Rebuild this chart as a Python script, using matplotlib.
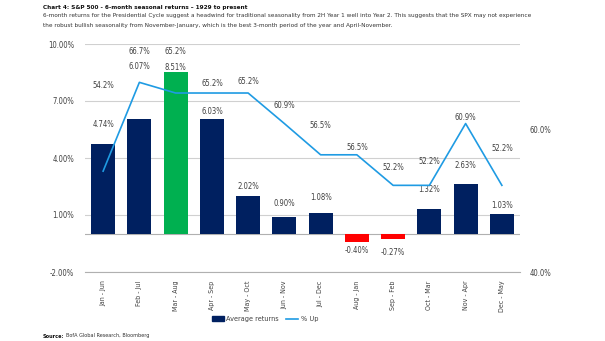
import numpy as np
import matplotlib.pyplot as plt
from matplotlib.ticker import FuncFormatter

plt.rcParams['font.family'] = ['DejaVu Sans']
plt.rcParams['font.stretch'] = 'condensed'

periods = ['Jan - Jun', 'Feb - Jul', 'Mar - Aug', 'Apr - Sep', 'May - Oct', 'Jun - Nov',
           'Jul - Dec', 'Aug - Jan', 'Sep - Feb', 'Oct - Mar', 'Nov - Apr', 'Dec - May']
avg_returns = [4.74, 6.07, 8.51, 6.03, 2.02, 0.90, 1.08, -0.40, -0.27, 1.32, 2.63, 1.03]
pct_up = [54.2, 66.7, 65.2, 65.2, 65.2, 60.9, 56.5, 56.5, 52.2, 52.2, 60.9, 52.2]

# label placement (pixels above the mark), as in the original chart
ret_label_dy = [19, 52, 5, 8, 9, 13, 16, -9, -13, 19, 19, 9]
up_label_dy = [86, 31, 42, 10, 12, 18, 29, 7, 18, 24, 6, 37]

navy = '#002060'
green = '#00b050'
red = '#ff0000'
blue = '#1f9be3'
grid_c = '#d0d0d0'
txt = '#404040'

fig = plt.figure(figsize=(6.05, 3.41), dpi=100)
ax = fig.add_axes([85 / 605, 1 - 272 / 341, 435 / 605, 228 / 341])
ax2 = ax.twinx()

x = np.arange(len(periods))
colors = []
for i, v in enumerate(avg_returns):
    if v < 0:
        colors.append(red)
    elif v == max(avg_returns):
        colors.append(green)
    else:
        colors.append(navy)
ax.bar(x, avg_returns, width=0.66, color=colors, zorder=3)
ax.axhline(0, color='#b0b0b0', lw=0.8, zorder=2)

ax.set_xlim(-0.5, len(periods) - 0.5)
ax.set_ylim(-2, 10)
ax.set_yticks([-2, 1, 4, 7, 10])
ax.yaxis.set_major_formatter(FuncFormatter(lambda v, p: f'{v:.2f}%'))
ax.grid(axis='y', color=grid_c, lw=0.8, zorder=0)
ax.set_axisbelow(True)
for s in ['top', 'right', 'left']:
    ax.spines[s].set_visible(False)
ax.spines['bottom'].set_color('#b0b0b0')
ax.set_xticks(x)
ax.set_xticklabels(periods, rotation=90, fontsize=5, color=txt)
ax.tick_params(axis='y', length=0, labelsize=5.5, labelcolor=txt, pad=8)
ax.tick_params(axis='x', length=0, pad=6)

for i, v in enumerate(avg_returns):
    ax.annotate(f'{v:.2f}%', (x[i], v), xytext=(0, ret_label_dy[i]),
                textcoords='offset pixels', ha='center', va='center',
                fontsize=5.5, color=txt)

ax2.plot(x, pct_up, color=blue, lw=1.2, zorder=4)
ax2.set_ylim(40, 72.1)
ax2.set_yticks([40, 60])
ax2.yaxis.set_major_formatter(FuncFormatter(lambda v, p: f'{v:.1f}%'))
ax2.tick_params(axis='y', length=0, labelsize=5.5, labelcolor=txt, pad=7)
for s in ax2.spines.values():
    s.set_visible(False)
for i, v in enumerate(pct_up):
    ax2.annotate(f'{v:.1f}%', (x[i], v), xytext=(0, up_label_dy[i]),
                 textcoords='offset pixels', ha='center', va='center',
                 fontsize=5.5, color=txt)

fig.text(43 / 605, 1 - 7 / 341, 'Chart 4: S&P 500 - 6-month seasonal returns \u2013 1929 to present',
         fontsize=4.6, fontweight='bold', color='#111111', va='center')
fig.text(43 / 605, 1 - 16 / 341,
         '6-month returns for the Presidential Cycle suggest a headwind for traditional seasonality from 2H Year 1 '
         'well into Year 2. This suggests that the SPX may not experience',
         fontsize=4.6, color='#333333', va='center')
fig.text(43 / 605, 1 - 25 / 341,
         'the robust bullish seasonality from November-January, which is the best 3-month period of the year '
         'and April-November.',
         fontsize=4.6, color='#333333', va='center')

h1 = plt.Rectangle((0, 0), 1, 1, color=navy)
h2 = plt.Line2D([], [], color=blue, lw=1.2)
fig.legend([h1, h2], ['Average returns', '% Up'], loc='center',
           bbox_to_anchor=(265 / 605, 1 - 319 / 341), ncol=2, frameon=False,
           fontsize=5.2, handlelength=1.7, handleheight=0.55, handletextpad=0.3,
           columnspacing=1.0, labelcolor=txt)

fig.text(43 / 605, 1 - 336 / 341, 'Source:', fontsize=4, fontweight='bold', color='#111111', va='center')
fig.text(66 / 605, 1 - 336 / 341, 'BofA Global Research, Bloomberg', fontsize=4, color='#333333', va='center')

fig.savefig('out.png', dpi=100)
